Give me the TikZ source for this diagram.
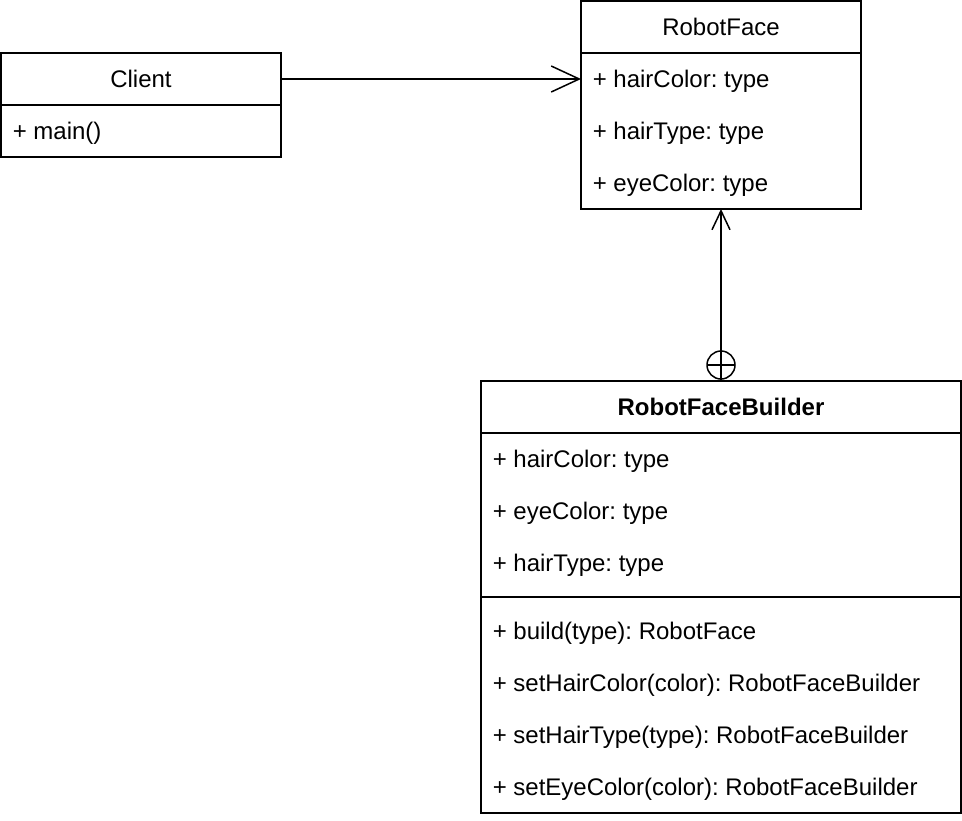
\documentclass[tikz,border=0pt]{standalone}
\usepackage{fontspec}
\setmainfont{Liberation Sans}
\usetikzlibrary{arrows.meta}
\frenchspacing
\begin{document}
\begin{tikzpicture}[
        x=1pt, y=-1pt,
        line width=1.5pt,
        every node/.style={
            font=\fontsize{24}{29}\selectfont,
            inner sep=0pt,
            text height=18pt,
            text depth=1pt
        },
        classhead/.style={
            draw=black,
            minimum height=52pt
        },
        member/.style={
            anchor=west
        },
        openarrow/.style={
            -{Straight Barb[length=28pt,width=26pt,line width=1.5pt]}
        },
        smallarrow/.style={
            -{Straight Barb[length=19pt,width=18pt,line width=1.5pt]}
        }
    ]
    \useasboundingbox (0,0) rectangle (962,820);

    % Client
    \node[classhead, minimum width=280pt] (client) at (141,79) {Client};
    \draw (1,105) rectangle (281,157);
    \node[member] (main) at (12,131) {+ main()};

    % RobotFace
    \node[classhead, minimum width=280pt] (face) at (721,27) {RobotFace};
    \draw (581,53) rectangle (861,209);
    \node[member] (f1) at (592,79)  {+ hairColor: type};
    \node[member] (f2) at (592,131) {+ hairType: type};
    \node[member] (f3) at (592,183) {+ eyeColor: type};
    \coordinate (facebottom) at (721,209);
    \coordinate (faceleft) at (581,79);

    % RobotFaceBuilder
    \node[classhead, minimum width=480pt, font=\fontsize{24}{29}\selectfont\bfseries] (builder) at (721,407) {RobotFaceBuilder};
    \draw (481,433) rectangle (961,813);
    \draw (481,597) -- (961,597);
    \node[member] (b1) at (492,459) {+ hairColor: type};
    \node[member] (b2) at (492,511) {+ eyeColor: type};
    \node[member] (b3) at (492,563) {+ hairType: type};
    \node[member] (m1) at (492,631) {+ build(type): RobotFace};
    \node[member] (m2) at (492,683) {+ setHairColor(color): RobotFaceBuilder};
    \node[member] (m3) at (492,735) {+ setHairType(type): RobotFaceBuilder};
    \node[member] (m4) at (492,787) {+ setEyeColor(color): RobotFaceBuilder};

    % Verbindungen
    \draw[openarrow] (client.east) -- (faceleft);
    \draw[smallarrow] (builder.north) -- (facebottom);
    \draw (721,365) circle[radius=14pt];
    \draw (707,365) -- (735,365);

\end{tikzpicture}
\end{document}
